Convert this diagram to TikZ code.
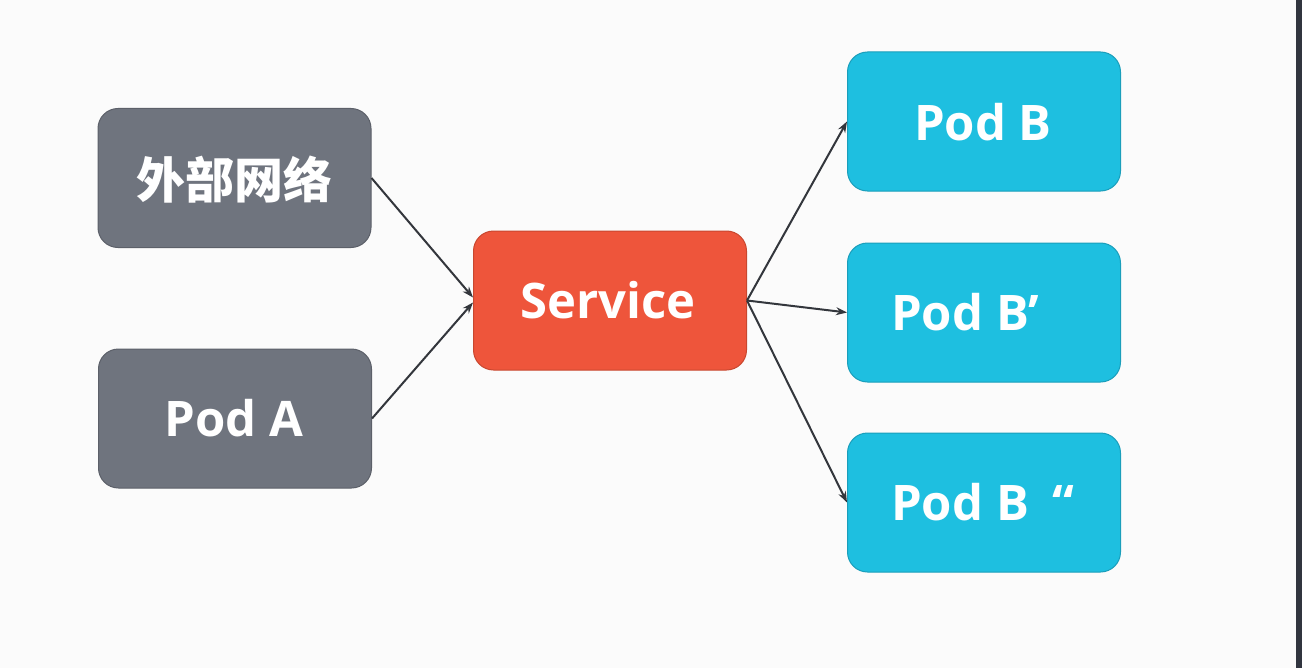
\documentclass[tikz,border=0pt]{standalone}
\usepackage{fontspec}
\setmainfont{Open Sans}
\newfontfamily\cjk{Noto Sans CJK SC}
\usetikzlibrary{arrows.meta}
\definecolor{bgc}{HTML}{FBFBFB}
\definecolor{stripc}{HTML}{31353F}
\definecolor{grayfill}{HTML}{6F747E}
\definecolor{graydraw}{HTML}{5C6069}
\definecolor{redfill}{HTML}{EE553B}
\definecolor{reddraw}{HTML}{C9472F}
\definecolor{cyanfill}{HTML}{1EBFE0}
\definecolor{cyandraw}{HTML}{1A9EBB}
\definecolor{arrowc}{HTML}{33363C}
\tikzset{
  box/.style={rounded corners=20bp, minimum width=273bp, minimum height=139bp, line width=1bp, inner sep=0pt, text=white},
  graybox/.style={box, fill=grayfill, draw=graydraw},
  redbox/.style={box, fill=redfill, draw=reddraw},
  cyanbox/.style={box, fill=cyanfill, draw=cyandraw},
  lbl/.style={text=white, font=\bfseries\fontsize{49bp}{55bp}\selectfont, inner sep=0pt},
  conn/.style={draw=arrowc, line width=2bp, -{Stealth[length=11bp,width=8bp]}}
}
\begin{document}
\begin{tikzpicture}[x=1bp,y=-1bp]
\fill[bgc] (0,0) rectangle (1296,668);
\fill[stripc] (1296,0) rectangle (1302,668);
\useasboundingbox (0,0) rectangle (1302,668);
\node[graybox] (ext) at (234.5,178) {};
\node[lbl] (extt) at (234,180) {\cjk\bfseries 外部网络};
\node[graybox] (poda) at (235,418.5) {};
\node[lbl] (podat) at (234,418) {Pod A};
\node[redbox] (svc) at (610,300.5) {};
\node[lbl] (svct) at (608,300) {Service};
\node[cyanbox] (podb) at (984,121.5) {};
\node[lbl] (podbt) at (983,122) {Pod B};
\node[cyanbox] (podb1) at (984,312.5) {};
\node[lbl, anchor=west] (podb1t) at (891,312) {Pod B’};
\node[cyanbox] (podb2) at (984,502.5) {};
\node[lbl, anchor=west] (podb2t) at (891,502) {Pod B\hspace{24bp}“};
\draw[conn] (ext.east) -- ([yshift=3bp]svc.west);
\draw[conn] (poda.east) -- ([yshift=-2bp]svc.west);
\draw[conn] (svc.east) -- (podb.west);
\draw[conn] (svc.east) -- (podb1.west);
\draw[conn] (svc.east) -- (podb2.west);
\end{tikzpicture}
\end{document}
